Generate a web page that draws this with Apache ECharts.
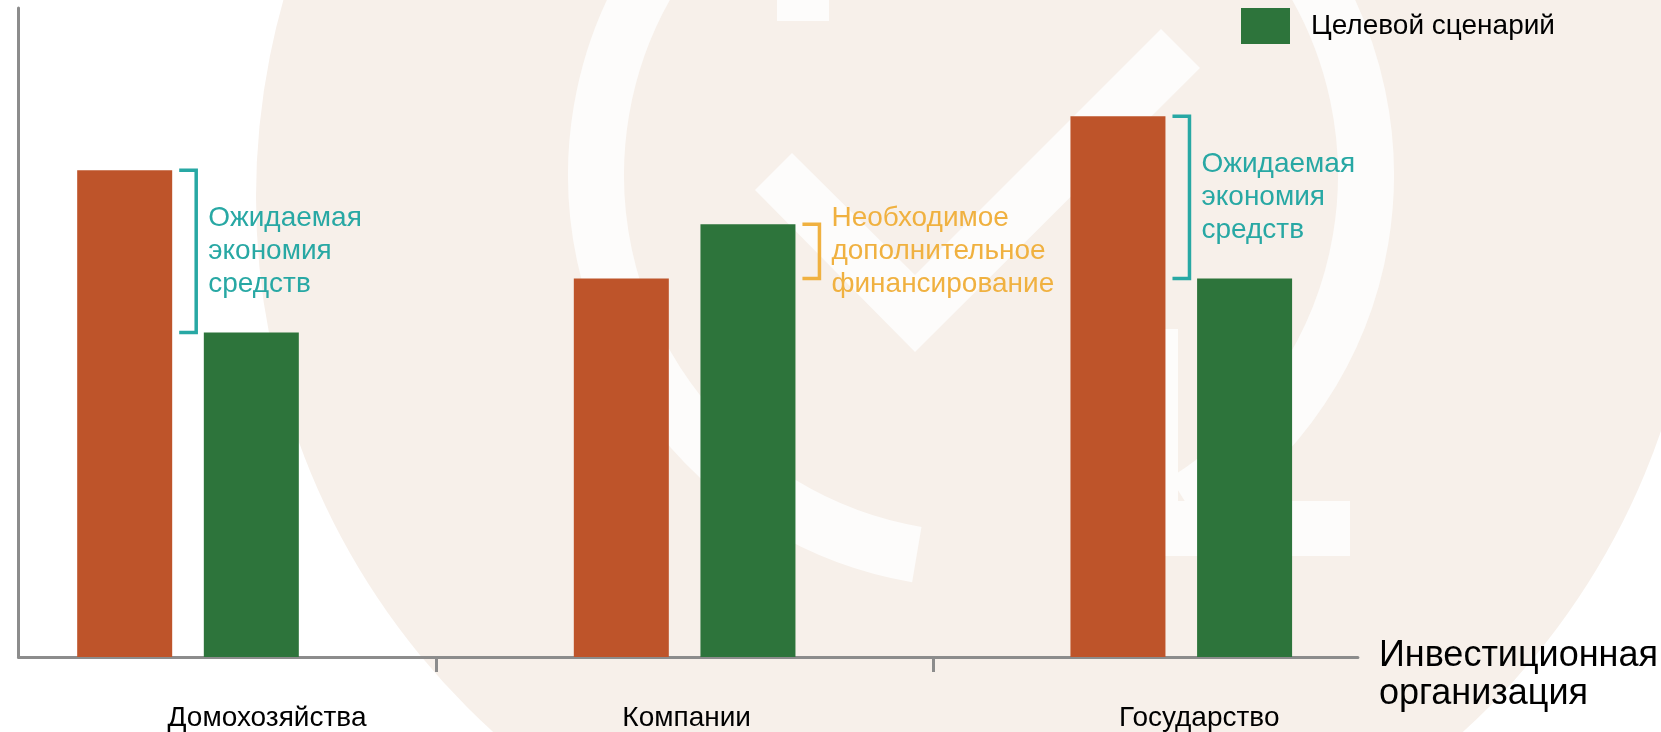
<!DOCTYPE html>
<html>
<head>
<meta charset="utf-8">
<script src="https://cdn.jsdelivr.net/npm/echarts@6/dist/echarts.min.js"></script>
<style>
  html, body { margin: 0; padding: 0; background: #ffffff; }
  #chart { width: 1661px; height: 732px; }
</style>
</head>
<body>
<div id="chart"></div>
<script>
// ---------------- DATA ----------------
const categories = ['Домохозяйства', 'Компании', 'Государство'];
const baseSeriesName = 'Базовый сценарий';
const targetSeriesName = 'Целевой сценарий';
const baseValues = [4.5, 3.5, 5.0];
const targetValues = [3.0, 4.0, 3.5];
const axisTitleLines = ['Инвестиционная', 'организация'];
const savingText = 'Ожидаемая\nэкономия\nсредств';
const extraText = 'Необходимое\nдополнительное\nфинансирование';
const categoryTicks = [0.5, 1.5];

// ---------------- STYLE ----------------
const FONT = '"Liberation Sans", Arial, sans-serif';
const ORANGE = '#BE542A';
const GREEN = '#2D743B';
const TEAL = '#28A8A4';
const AMBER = '#F0B140';
const AXIS = '#8C8C8C';
const BEIGE = '#F7F0EA';
const LIGHT = '#FDFCFB';
const BAR_W = 95;
const GAP_PX = 31.6;
const labelShift = [158, 4, 36];

const chart = echarts.init(document.getElementById('chart'), null, { renderer: 'canvas' });

const annotationData = categories.map((c, i) => [i, baseValues[i], targetValues[i]]);

function renderBracket(params, api) {
  const cat = api.value(0);
  const b = api.value(1);
  const t = api.value(2);
  const center = api.coord([cat, 0])[0];
  const saving = b > t;
  // bracket sits right of the left bar when saving, right of right bar otherwise
  const edge = saving ? center - GAP_PX / 2 : center + GAP_PX / 2 + BAR_W;
  const yA = api.coord([cat, Math.max(b, t)])[1];
  const yB = api.coord([cat, Math.min(b, t)])[1];
  const x0 = edge + 7, x1 = edge + 24;
  const color = saving ? TEAL : AMBER;
  return {
    type: 'group',
    children: [
      {
        type: 'polyline',
        shape: { points: [[x0, yA], [x1, yA], [x1, yB], [x0, yB]] },
        style: { stroke: color, lineWidth: 3.5, fill: null }
      },
      {
        type: 'text',
        style: {
          x: x1 + 12,
          y: (yA + yB) / 2,
          text: saving ? savingText : extraText,
          fill: color,
          font: '28px ' + FONT,
          lineHeight: 33,
          align: 'left',
          verticalAlign: 'middle'
        }
      }
    ]
  };
}

const rich = {};
labelShift.forEach((p, i) => {
  rich['c' + i] = { fontSize: 28, fontFamily: FONT, color: '#000', padding: [0, 0, 0, p] };
});

const option = {
  backgroundColor: '#ffffff',
  animation: false,
  textStyle: { fontFamily: FONT },
  graphic: {
    elements: [
      { type: 'circle', z: -100, silent: true, shape: { cx: 978, cy: 197, r: 722 }, style: { fill: BEIGE } },
      { type: 'arc', z: -99, silent: true,
        shape: { cx: 981, cy: 175, r: 385, startAngle: 99.6 * Math.PI / 180, endAngle: 418 * Math.PI / 180, clockwise: true },
        style: { stroke: LIGHT, lineWidth: 56, fill: null } },
      { type: 'rect', z: -99, silent: true, shape: { x: 1124, y: 329, width: 54, height: 227 }, style: { fill: LIGHT } },
      { type: 'rect', z: -99, silent: true, shape: { x: 1124, y: 501, width: 226, height: 55 }, style: { fill: LIGHT } },
      { type: 'rect', z: -99, silent: true, shape: { x: 777, y: 0, width: 52, height: 21 }, style: { fill: LIGHT } },
      { type: 'polygon', z: -99, silent: true,
        shape: { points: [[755, 190], [792, 153], [915, 275], [1161, 29], [1200, 68], [915, 352]] },
        style: { fill: LIGHT } }
    ]
  },
  legend: {
    data: [targetSeriesName],
    left: 1236,
    top: 3,
    itemWidth: 49,
    itemHeight: 36,
    icon: 'rect',
    textStyle: { fontSize: 28, fontFamily: FONT, color: '#000', padding: [0, 0, 0, 16] }
  },
  grid: { left: 18.5, right: 300, top: 8, bottom: 75, containLabel: false },
  xAxis: {
    type: 'value',
    min: -0.3413,
    max: 2.3556,
    splitLine: { show: false },
    axisLine: { show: true, onZero: false, lineStyle: { color: AXIS, width: 3 } },
    axisTick: { show: true, customValues: categoryTicks, length: 15, lineStyle: { color: AXIS, width: 3 } },
    axisLabel: {
      show: true,
      customValues: [0, 1, 2],
      margin: 47,
      formatter: function (v) {
        const i = Math.round(v);
        return '{c' + i + '|' + categories[i] + '}';
      },
      rich: rich
    },
    name: '{s| }\n' + axisTitleLines.map(l => '{n|' + l + '}').join('\n'),
    nameLocation: 'end',
    nameGap: 21,
    nameTextStyle: {
      align: 'left',
      verticalAlign: 'middle',
      rich: {
        s: { fontSize: 10, lineHeight: 36 },
        n: { fontSize: 36, fontFamily: FONT, color: '#000', lineHeight: 38 }
      }
    }
  },
  yAxis: {
    type: 'value',
    min: 0,
    max: 6,
    splitLine: { show: false },
    axisLabel: { show: false },
    axisTick: { show: false },
    axisLine: { show: true, onZero: false, lineStyle: { color: AXIS, width: 3 } }
  },
  series: [
    {
      name: baseSeriesName,
      type: 'bar',
      barWidth: BAR_W,
      barGap: (GAP_PX / BAR_W * 100).toFixed(1) + '%',
      itemStyle: { color: ORANGE },
      data: baseValues.map((v, i) => [i, v])
    },
    {
      name: targetSeriesName,
      type: 'bar',
      barWidth: BAR_W,
      barGap: (GAP_PX / BAR_W * 100).toFixed(1) + '%',
      itemStyle: { color: GREEN },
      data: targetValues.map((v, i) => [i, v])
    },
    {
      name: 'annotations',
      type: 'custom',
      clip: false,
      z: 5,
      encode: { x: 0, y: 1 },
      renderItem: renderBracket,
      data: annotationData
    }
  ]
};

chart.setOption(option);
</script>
</body>
</html>
